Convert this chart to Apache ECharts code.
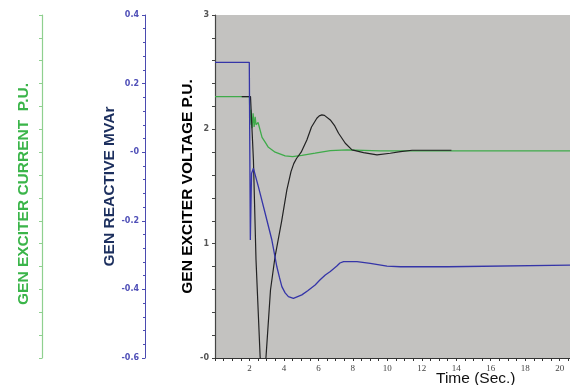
<!DOCTYPE html>
<html>
<head>
<meta charset="utf-8">
<script src="https://cdn.jsdelivr.net/npm/echarts@6/dist/echarts.min.js"></script>
<style>
html,body{margin:0;padding:0;background:#fff;}
#chart{width:570px;height:385px;}
</style>
</head>
<body>
<div id="chart"></div>
<script>
// Exciter voltage (P.U.) - black
const voltT = [1.55, 2.06, 2.23, 2.38, 2.62, 2.72, 2.80, 2.88, 2.96, 3.22, 3.49, 3.86, 4.17, 4.41, 4.57, 4.73, 5.0, 5.33, 5.60, 5.91, 6.05, 6.20, 6.35, 6.45, 6.69, 6.95, 7.17, 7.56, 7.95, 8.62, 9.40, 10.17, 10.76, 11.44, 13.72];
const voltV = [2.286, 2.286, 1.732, 0.857, 0.009, -0.15, -0.2, -0.12, 0.01, 0.595, 0.892, 1.19, 1.47, 1.63, 1.70, 1.745, 1.80, 1.907, 2.02, 2.097, 2.118, 2.126, 2.122, 2.112, 2.082, 2.03, 1.966, 1.878, 1.820, 1.796, 1.776, 1.791, 1.805, 1.817, 1.817];
// Exciter current (P.U.) - green
const currT = [0, 2.0, 2.03, 2.09, 2.15, 2.21, 2.27, 2.33, 2.38, 2.5, 2.73, 2.9, 3.08, 3.49, 4.07, 4.5, 5.04, 5.81, 6.69, 7.66, 9.59, 20.6];
const currV = [2.286, 2.286, 2.04, 2.17, 2.01, 2.14, 2.02, 2.11, 2.04, 2.06, 1.93, 1.89, 1.846, 1.80, 1.767, 1.761, 1.773, 1.791, 1.814, 1.820, 1.811, 1.811];
// Reactive power (MVAr) - blue
const mvarT = [0, 1.99, 2.05, 2.12, 2.23, 2.52, 2.91, 3.30, 3.59, 3.74, 3.88, 4.07, 4.26, 4.55, 5.04, 5.40, 5.81, 6.10, 6.40, 6.69, 7.07, 7.25, 7.46, 8.24, 9.01, 9.98, 10.76, 11.51, 13.5, 13.55, 20.6];
const mvarV = [0.262, 0.262, -0.256, -0.062, -0.047, -0.101, -0.178, -0.256, -0.334, -0.365, -0.392, -0.41, -0.421, -0.426, -0.416, -0.403, -0.387, -0.372, -0.358, -0.348, -0.332, -0.323, -0.319, -0.319, -0.324, -0.332, -0.334, -0.334, -0.334, -0.329, -0.329];
// Axis ranges / ticks
const timeRange = [0, 20.6];
const timeStep = 2;
const voltRange = [0, 3];
const mvarRange = [-0.6, 0.4];
const mvarStep = 0.2;
// Texts
const titleCurrent = 'GEN EXCITER CURRENT  P.U.';
const titleMvar = 'GEN REACTIVE MVAr';
const titleVolt = 'GEN EXCITER VOLTAGE P.U.';
const titleTime = 'Time (Sec.)';

const pair = (ts, vs) => ts.map((t, i) => [t, vs[i]]);

const chart = echarts.init(document.getElementById('chart'), null, {renderer: 'canvas'});
const nameFont = {fontFamily: 'Liberation Sans, Arial, sans-serif', fontWeight: 'bold', fontSize: 15.5};

chart.setOption({
  animation: false,
  backgroundColor: '#ffffff',
  title: {
    text: titleTime, left: 431, top: 366,
    textStyle: {fontFamily: 'Liberation Sans, Arial, sans-serif', fontWeight: 'normal', fontSize: 15.5, color: '#111'}
  },
  grid: {left: 215, top: 15, right: 0, bottom: 27, show: true, backgroundColor: '#c3c2c0', borderWidth: 0, containLabel: false, outerBoundsMode: 'none'},
  xAxis: {
    type: 'value', min: timeRange[0], max: timeRange[1], interval: timeStep,
    axisLine: {show: true, lineStyle: {color: '#333', width: 1}},
    axisTick: {show: true, length: 3, lineStyle: {color: '#333'}},
    minorTick: {show: true, splitNumber: 4, length: 3, lineStyle: {color: '#333'}},
    splitLine: {show: false},
    axisLabel: {
      margin: 6, fontSize: 9, color: '#444', fontFamily: 'Liberation Serif, serif',
      showMaxLabel: false,
      formatter: v => (Math.abs(v) < 1e-9 ? '' : String(Math.round(v)))
    }
  },
  yAxis: [
    {
      type: 'value', position: 'left', offset: 0, min: voltRange[0], max: voltRange[1], interval: 1,
      name: titleVolt, nameLocation: 'middle', nameGap: 19, nameRotate: 90, nameMoveOverlap: false,
      nameTextStyle: Object.assign({color: '#000'}, nameFont),
      axisLine: {show: true, lineStyle: {color: '#444', width: 1.2}},
      axisTick: {show: true, length: 3, lineStyle: {color: '#444'}},
      minorTick: {show: true, splitNumber: 5, length: 3, lineStyle: {color: '#444'}},
      splitLine: {show: false},
      axisLabel: {
        margin: 6, fontSize: 8, color: '#555', fontWeight: 'bold', fontFamily: 'DejaVu Sans, sans-serif',
        formatter: v => { const r = Math.round(v); return r === 0 ? '-0' : String(r); }
      }
    },
    {
      type: 'value', position: 'left', offset: 70, min: mvarRange[0], max: mvarRange[1], interval: mvarStep,
      name: titleMvar, nameLocation: 'middle', nameGap: 27, nameRotate: 90, nameMoveOverlap: false,
      nameTextStyle: Object.assign({color: '#1c2f5e'}, nameFont),
      axisLine: {show: true, lineStyle: {color: '#4b4bb0', width: 1}},
      axisTick: {show: true, length: 3, lineStyle: {color: '#4b4bb0'}},
      minorTick: {show: true, splitNumber: 5, length: 2, lineStyle: {color: '#4b4bb0'}},
      splitLine: {show: false},
      axisLabel: {
        margin: 6, fontSize: 8, color: '#5050b8', fontWeight: 'bold', fontFamily: 'DejaVu Sans, sans-serif',
        formatter: v => { const r = Math.round(v * 10) / 10; return r === 0 ? '-0' : r.toFixed(1); }
      }
    },
    {
      type: 'value', position: 'left', offset: 173, min: voltRange[0], max: voltRange[1], interval: 0.2,
      name: titleCurrent, nameLocation: 'middle', nameGap: 10, nameRotate: 90, nameMoveOverlap: false,
      nameTextStyle: Object.assign({color: '#3bb54a', padding: [0, 15, 0, 0]}, nameFont),
      axisLine: {show: true, lineStyle: {color: '#8fd08f', width: 1.2}},
      axisTick: {show: true, length: 3, lineStyle: {color: '#8fd08f'}},
      splitLine: {show: false},
      axisLabel: {show: false}
    }
  ],
  series: [
    {
      type: 'line', name: 'current', yAxisIndex: 2, data: pair(currT, currV),
      showSymbol: false, symbol: 'none', lineStyle: {color: '#3fab4a', width: 1.3}, z: 2
    },
    {
      type: 'line', name: 'voltage', yAxisIndex: 0, data: pair(voltT, voltV),
      showSymbol: false, symbol: 'none', lineStyle: {color: '#222', width: 1.2}, z: 3
    },
    {
      type: 'line', name: 'mvar', yAxisIndex: 1, data: pair(mvarT, mvarV),
      showSymbol: false, symbol: 'none', lineStyle: {color: '#3535a8', width: 1.3}, z: 4
    }
  ]
});
</script>
</body>
</html>
